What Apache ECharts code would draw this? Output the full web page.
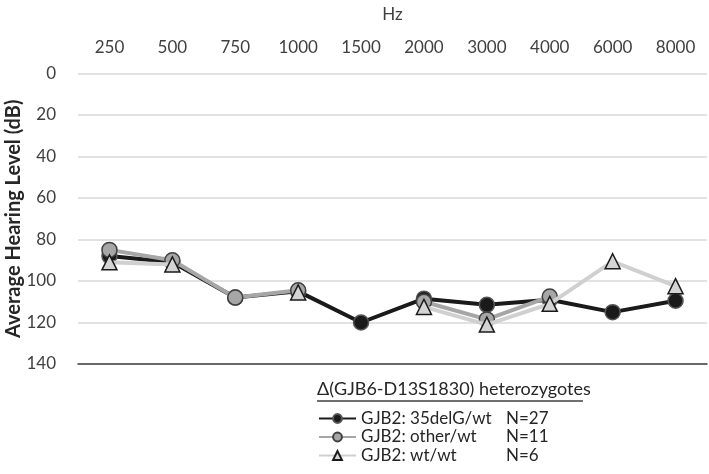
<!DOCTYPE html>
<html><head><meta charset="utf-8">
<script src="https://cdn.jsdelivr.net/npm/echarts@6/dist/echarts.min.js"></script>
<style>html,body{margin:0;padding:0;background:#fff}#c{width:709px;height:474px}</style>
</head><body><div id="c"></div>
<script>
const categories = ['250','500','750','1000','1500','2000','3000','4000','6000','8000'];
const yTicks = [0,20,40,60,80,100,120,140];
const seriesNames = ['GJB2: 35delG/wt','GJB2: other/wt','GJB2: wt/wt'];
const seriesN = ['N=27','N=11','N=6'];
const del35 = [88, 91, 108, 105, 120, 108.5, 111.5, 109, 115, 109.5];
const other = [85, 90, 108, 104.5, null, 110, 118.5, 107.5, null, null];
const wtwt  = [91, 92, null, 105.5, null, 112.5, 121, 111, 90.5, 102.5];
const legendTitle = 'Δ(GJB6-D13S1830) heterozygotes';

const FONT = 'Lato';
const chart = echarts.init(document.getElementById('c'));
const nMap = {}; seriesNames.forEach((n,i)=>nMap[n]=seriesN[i]);
chart.setOption({
  animation:false,
  textStyle:{fontFamily:FONT},
  grid:{left:78,right:2,top:73.5,bottom:110,containLabel:false,outerBoundsMode:'none'},
  xAxis:[{
    type:'category', data:categories, position:'top',
    name:'Hz', nameLocation:'middle', nameGap:50, nameMoveOverlap:false,
    nameTextStyle:{fontFamily:FONT,fontSize:17,color:'#404040'},
    axisLine:{show:false}, axisTick:{show:false},
    axisLabel:{fontFamily:FONT,fontSize:17,color:'#404040',margin:17}
  },{
    type:'category', data:categories, position:'bottom',
    axisLine:{show:true,lineStyle:{color:'#404040',width:1.5}},
    axisTick:{show:false}, axisLabel:{show:false}
  }],
  yAxis:{
    type:'value', inverse:true, min:yTicks[0], max:yTicks[yTicks.length-1], interval:20,
    name:'Average Hearing Level (dB)', nameLocation:'middle', nameGap:54, nameMoveOverlap:false,
    nameTextStyle:{fontFamily:FONT,fontSize:20,fontWeight:'bold',color:'#262626'},
    axisLine:{show:false}, axisTick:{show:false},
    axisLabel:{fontFamily:FONT,fontSize:17,color:'#404040',margin:22},
    splitLine:{lineStyle:{color:'#d9d9d9',width:1.5}}
  },
  legend:{
    orient:'vertical', left:318, top:410, itemGap:1.5, itemWidth:37, itemHeight:11, padding:0,
    data:seriesNames,
    formatter:n=>'{a|'+n+'}{b|'+nMap[n]+'}',
    textStyle:{fontFamily:FONT,fontSize:17,color:'#262626',
      rich:{a:{width:145,fontSize:17,lineHeight:20,fontFamily:FONT,color:'#262626'},b:{fontSize:17,lineHeight:20,fontFamily:FONT,color:'#262626'}}}
  },
  graphic:[
    {type:'text',left:317,top:380,style:{text:legendTitle,font:'18px '+FONT,fill:'#262626'}},
    {type:'line',shape:{x1:317,y1:401,x2:583,y2:401},style:{stroke:'#404040',lineWidth:1.5}}
  ],
  series:[
    {name:seriesNames[0],type:'line',data:del35,symbol:'circle',symbolSize:15,z:2,
     lineStyle:{color:'#1a1a1a',width:4},itemStyle:{color:'#1a1a1a',borderColor:'#555',borderWidth:1.5}},
    {name:seriesNames[1],type:'line',data:other,symbol:'circle',symbolSize:15,z:3,
     lineStyle:{color:'#a6a6a6',width:4},itemStyle:{color:'#a6a6a6',borderColor:'#404040',borderWidth:1.5}},
    {name:seriesNames[2],type:'line',data:wtwt,symbol:'triangle',symbolSize:15,z:4,
     lineStyle:{color:'#d0d0d0',width:4},itemStyle:{color:'#d4d4d4',borderColor:'#1a1a1a',borderWidth:1.5}}
  ]
});
</script></body></html>
